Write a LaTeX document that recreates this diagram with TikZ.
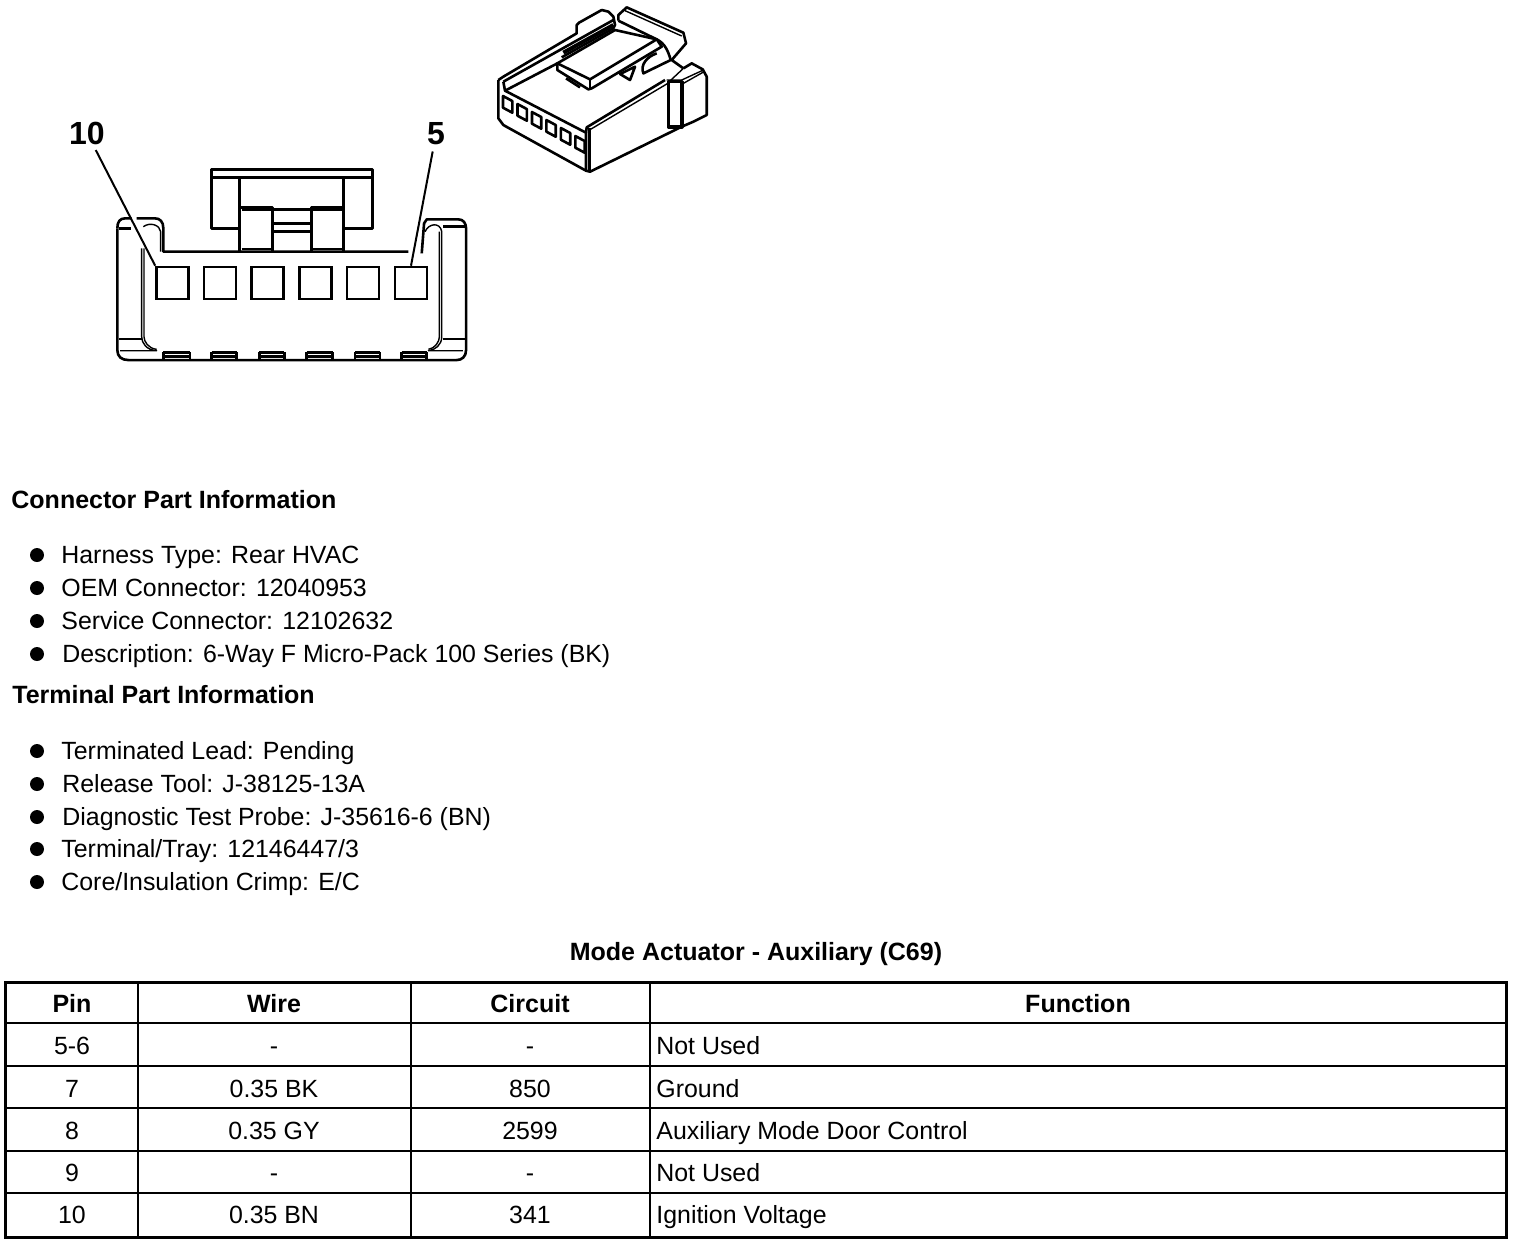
\documentclass[tikz,border=0pt]{standalone}
\usepackage{fontspec}
\setmainfont{Liberation Sans}
\usetikzlibrary{positioning}
\tikzset{part/.style={line width=1.3pt,line join=round}}
\tikzset{thin part/.style={line width=.7pt,line join=round}}
\tikzset{pinbox/.style={draw,line width=1.3pt,minimum width=16pt,minimum height=16pt,inner sep=0pt}}
\tikzset{txt/.style={font=\fontsize{12.45}{14}\selectfont,anchor=base west,inner sep=0pt}}
\tikzset{headtxt/.style={txt,font=\fontsize{12.5}{14}\selectfont\bfseries}}
\tikzset{cell/.style={txt,anchor=base}}
\tikzset{headcell/.style={headtxt,anchor=base}}
\tikzset{bigtxt/.style={font=\fontsize{16}{18}\selectfont\bfseries,inner sep=0pt}}
\tikzset{rule/.style={line width=.8pt}}
\tikzset{bullet/.style={circle,fill=black,minimum size=7pt,inner sep=0pt}}

\begin{document}
\begin{tikzpicture}[x=.5pt,y=-.5pt]
    \useasboundingbox (0,0) rectangle (1520,1244);
    % small view of the connector
    \begin{scope}[shift={(480,0)},x=.1667pt,y=-.1667pt]
        \draw[part] (55,240) -- (55,355) -- (70,375) -- (318,512) -- (330,515) -- (605,380) -- (640,365) -- (680,345) -- (680,230) -- (668,208) -- (635,190) -- (610,205);
        \draw[part] (55,240) -- (70,230) -- (290,100) -- (290,75) -- (297,68) -- (365,30) -- (385,35) -- (400,50) -- (405,75) -- (400,85) -- (245,172);
        \draw[part] (232,190) -- (75,272) -- (70,245);
        \draw[part] (70,245) -- (400,60);
        \draw[part,line width=2pt] (250,158) -- (400,75);
        \draw[part] (75,272) -- (318,398) -- (318,512);
        \draw[part] (318,398) -- (320,382) -- (555,240);
        \draw[part] (328,385) -- (328,515);
        \draw[thin part] (328,390) -- (560,252) -- (610,205);
        \draw[part,line width=1.8pt] (565,245) -- (565,380) -- (605,380) -- (605,245) -- cycle;
        \draw[thin part] (560,240) -- (605,240) -- (670,210);
        \draw[thin part] (610,250) -- (672,215);
        % the latch on top
        \draw[part,fill=white] (232,190) -- (232,210) -- (325,268) -- (335,265) -- (545,140) -- (530,118) -- (405,90) -- cycle;
        \draw[part] (232,190) -- (330,238) -- (530,118);
        \draw[part] (330,238) -- (330,265);
        \draw[part] (258,235) -- (300,262);
        \draw[part] (415,62) -- (415,45) -- (440,22) -- (610,98) -- (618,130) -- (575,180) -- (610,205);
        \draw[thin part] (435,32) -- (605,108);
        \draw[part] (415,62) -- (530,118) .. controls (555,130) and (565,155) .. (572,180);
        \draw[part] (530,160) .. controls (500,170) and (480,195) .. (490,220) -- (572,180);
        \draw[part] (420,222) -- (465,200) -- (450,240) -- cycle;
        \foreach \i in {0,...,5}
            \draw[part] ({69+\i*43.4},{288+\i*24}) -- ++(0,35) -- ++(28,15) -- ++(0,-35) -- cycle;
    \end{scope}
    % front view of the connector
    \begin{scope}[shift={(100,160)},x=.1667pt,y=-.1667pt]
        \draw[part] (52,205) .. controls (52,185) and (60,175) .. (75,175) -- (95,175);
        \draw[part] (110,175) -- (165,175) .. controls (180,175) and (190,185) .. (190,205) -- (190,275) -- (925,275);
        \draw[part] (965,280) -- (972,190) -- (980,178) -- (1075,178) .. controls (1090,178) and (1098,190) .. (1098,205) -- (1098,570) .. controls (1098,590) and (1085,600) .. (1070,600) -- (85,600) .. controls (65,600) and (52,590) .. (52,570) -- (52,205);
        \draw[thin part] (125,265) -- (125,530) .. controls (125,550) and (140,570) .. (170,572) -- (60,572);
        \draw[thin part] (132,265) -- (132,530) .. controls (132,545) and (145,565) .. (170,568);
        \draw[thin part] (130,200) .. controls (150,185) and (180,195) .. (182,215) -- (182,275);
        \draw[thin part] (975,215) .. controls (985,190) and (1020,185) .. (1025,215) -- (1025,530) .. controls (1025,555) and (1005,570) .. (985,572) -- (1088,572);
        \draw[thin part] (1018,215) -- (1018,530) .. controls (1018,545) and (1005,565) .. (985,568);
        \draw[part] (58,205) -- (92,205) (1030,200) -- (1095,200) (58,537) -- (125,537) (1028,537) -- (1095,537);
        \foreach \a/\b in {190/270,335/410,478/553,620/698,765/840,905/980}
            \draw[part] (\a,577) -- (\b,577) (\a,590) -- (\b,590) (\a,577) -- (\a,600) (\b,577) -- (\b,600);
        % the latch
        \draw[part] (418,205) -- (335,205) -- (335,28) -- (818,28) -- (818,205) -- (730,205);
        \draw[part] (340,52) -- (815,52);
        \draw[part] (418,55) -- (418,275) (730,55) -- (730,275);
        \draw[part] (418,142) -- (518,142) -- (518,275) (730,142) -- (635,142) -- (635,275);
        \draw[part] (518,148) -- (635,148) (518,190) -- (635,190) (518,215) -- (635,215);
        \draw[thin part] (425,150) -- (518,150) (425,267) -- (518,267) (635,150) -- (725,150) (635,267) -- (725,267);
    \end{scope}
    \foreach \i/\x in {1/172.5,2/220,3/267.5,4/315.5,5/363,6/411}
        \node[pinbox] (pin\i) at (\x,283) {};
    \node[bigtxt] (lab10) at (87,133) {10};
    \node[bigtxt] (lab5) at (436,134) {5};
    \draw[line width=1pt,shorten <=3pt] (lab10) -- (pin1.north west);
    \draw[line width=1pt,shorten <=3pt] (lab5) -- (pin6.north);
    % part information
    \node[headtxt] (conn) at (11,508.5) {Connector Part Information};
    \foreach \n/\y/\x/\t in {a/555/61/{Harness Type: Rear HVAC},b/588/61/{OEM Connector: 12040953},c/621/61/{Service Connector: 12102632},d/654/62/{Description: 6-Way F Micro-Pack 100 Series (BK)},e/751/61/{Terminated Lead: Pending},f/784/62/{Release Tool: J-38125-13A},g/817/62/{Diagnostic Test Probe: J-35616-6 (BN)},h/849/61/{Terminal/Tray: 12146447/3},i/882/61/{Core/Insulation Crimp: E/C}} {
        \node[bullet] (dot\n) at (37,\y) {};
        \node[txt] (item\n) at (\x,\y+8.5) {\t};
    }
    \node[headtxt] (term) at (12,703.5) {Terminal Part Information};
    % the table
    \node[headcell] (title) at (756,960) {Mode Actuator - Auxiliary (C69)};
    \draw[line width=1.5pt] (5.5,982) rectangle (1506,1237);
    \foreach \y in {1023,1066,1108,1151,1193}
        \draw[rule] (5,\y) -- (1506,\y);
    \foreach \x in {138,411,650}
        \draw[rule] (\x,982) -- (\x,1237);
    \node[headcell] (pinh) at (72,1012) {Pin};
    \node[headcell] (wireh) at (274,1012) {Wire};
    \node[headcell] (circh) at (530,1012) {Circuit};
    \node[headcell] (funch) at (1078,1012) {Function};
    \foreach \n/\y/\p/\w/\c/\f in {a/1054.5/5-6/-/-/Not Used,b/1097/7/0.35 BK/850/Ground,c/1139/8/0.35 GY/2599/Auxiliary Mode Door Control,d/1181.5/9/-/-/Not Used,e/1223.5/10/0.35 BN/341/Ignition Voltage} {
        \node[cell] (pin\n) at (72,\y) {\p};
        \node[cell] (wire\n) at (274,\y) {\w};
        \node[cell] (circ\n) at (530,\y) {\c};
        \node[txt] (func\n) at (656,\y) {\f};
    }
\end{tikzpicture}
\end{document}
